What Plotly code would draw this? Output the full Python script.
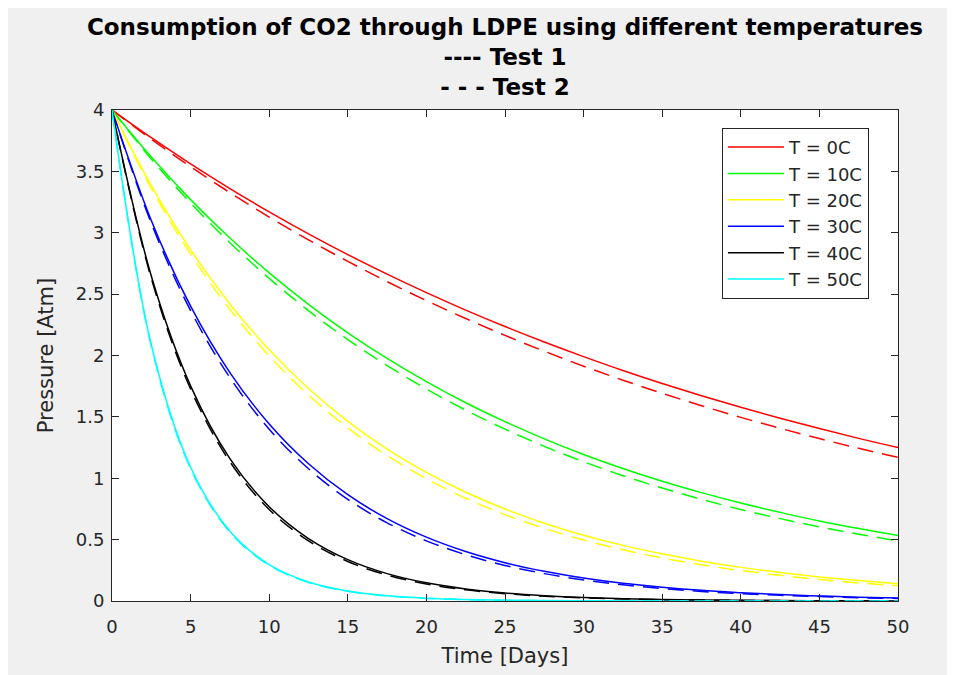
import plotly.graph_objects as go

# Time axis (days)
t = [0, 2.5, 5, 7.5, 10, 12.5, 15, 17.5, 20, 22.5, 25, 27.5, 30, 32.5, 35, 37.5, 40, 42.5, 45, 47.5, 50]

# Test 1 (solid) pressures [Atm]
p_0C_1 = [4, 3.774, 3.561, 3.360, 3.170, 2.991, 2.822, 2.663, 2.512, 2.370, 2.236, 2.110, 1.991, 1.878, 1.772, 1.672, 1.578, 1.489, 1.405, 1.325, 1.250]
p_10C_1 = [4, 3.617, 3.270, 2.957, 2.673, 2.417, 2.185, 1.976, 1.787, 1.615, 1.461, 1.321, 1.194, 1.080, 0.976, 0.883, 0.798, 0.722, 0.652, 0.590, 0.533]
p_20C_1 = [4, 3.383, 2.861, 2.420, 2.047, 1.731, 1.464, 1.238, 1.048, 0.886, 0.749, 0.634, 0.536, 0.453, 0.384, 0.324, 0.274, 0.232, 0.196, 0.166, 0.140]
p_30C_1 = [4, 3.100, 2.402, 1.861, 1.442, 1.118, 0.866, 0.671, 0.520, 0.403, 0.312, 0.242, 0.188, 0.145, 0.113, 0.087, 0.068, 0.052, 0.041, 0.031, 0.024]
p_40C_1 = [4, 2.648, 1.753, 1.160, 0.768, 0.509, 0.337, 0.223, 0.148, 0.098, 0.065, 0.043, 0.028, 0.019, 0.012, 0.008, 0.0054, 0.0036, 0.0024, 0.0016, 0.0010]
p_50C_1 = [4, 2.088, 1.090, 0.569, 0.297, 0.155, 0.081, 0.042, 0.022, 0.0115, 0.0060, 0.0031, 0.0016, 0.0009, 0.0004, 0.0002, 0.0001, 0.0001, 0.0, 0.0, 0.0]

# Test 2 (dashed) pressures [Atm]
p_0C_2 = [4, 3.762, 3.538, 3.327, 3.128, 2.942, 2.767, 2.602, 2.447, 2.301, 2.164, 2.035, 1.913, 1.799, 1.692, 1.591, 1.496, 1.407, 1.323, 1.244, 1.170]
p_10C_2 = [4, 3.601, 3.242, 2.919, 2.628, 2.366, 2.130, 1.918, 1.727, 1.555, 1.400, 1.260, 1.135, 1.021, 0.920, 0.828, 0.745, 0.671, 0.604, 0.544, 0.490]
p_20C_2 = [4, 3.362, 2.826, 2.375, 1.996, 1.678, 1.410, 1.185, 0.996, 0.837, 0.704, 0.592, 0.497, 0.418, 0.351, 0.295, 0.248, 0.209, 0.175, 0.147, 0.124]
p_30C_2 = [4, 3.077, 2.366, 1.820, 1.400, 1.077, 0.828, 0.637, 0.490, 0.377, 0.290, 0.223, 0.171, 0.132, 0.101, 0.078, 0.060, 0.046, 0.036, 0.027, 0.021]
p_40C_2 = [4, 2.628, 1.727, 1.135, 0.745, 0.490, 0.322, 0.211, 0.139, 0.091, 0.060, 0.039, 0.026, 0.017, 0.011, 0.0074, 0.0049, 0.0032, 0.0021, 0.0014, 0.0009]
p_50C_2 = [4, 2.078, 1.079, 0.561, 0.291, 0.151, 0.079, 0.041, 0.021, 0.011, 0.0058, 0.0030, 0.0016, 0.0008, 0.0004, 0.0002, 0.0001, 0.0001, 0.0, 0.0, 0.0]

labels = ["T = 0C", "T = 10C", "T = 20C", "T = 30C", "T = 40C", "T = 50C"]
colors = ["#ff0000", "#00ff00", "#ffff00", "#0000ff", "#000000", "#00ffff"]
test1 = [p_0C_1, p_10C_1, p_20C_1, p_30C_1, p_40C_1, p_50C_1]
test2 = [p_0C_2, p_10C_2, p_20C_2, p_30C_2, p_40C_2, p_50C_2]

FONT = "DejaVu Sans"
INK = "#262626"

fig = go.Figure()
for i, (lab, col) in enumerate(zip(labels, colors)):
    fig.add_trace(go.Scatter(x=t, y=test1[i], mode="lines", name=lab,
                             legendgroup=f"g{i}",
                             line=dict(color=col, width=1.5, shape="spline", smoothing=1.0)))
for i, (lab, col) in enumerate(zip(labels, colors)):
    fig.add_trace(go.Scatter(x=t, y=test2[i], mode="lines", name=lab + " (Test 2)",
                             legendgroup=f"g{i}", showlegend=False,
                             line=dict(color=col, width=1.5, dash="16px,9px", shape="spline", smoothing=1.0)))

axis_common = dict(showgrid=False, zeroline=False, showline=True, linecolor=INK, linewidth=1,
                   mirror="ticks", ticks="inside", ticklen=7, tickcolor=INK, tickwidth=1,
                   tickfont=dict(family=FONT, size=18, color=INK))

fig.update_layout(
    width=939, height=667,
    margin=dict(l=104, r=49, t=102, b=71),
    paper_bgcolor="#f0f0f0", plot_bgcolor="#ffffff",
    title=dict(text="<b>Consumption of CO2 through LDPE using different temperatures<br>---- Test 1<br>- - - Test 2</b>",
               x=0.5, xref="paper", xanchor="center", y=0.9595, yref="container", yanchor="top",
               font=dict(family=FONT, size=23, color="#000000")),
    xaxis=dict(range=[0, 50], tick0=0, dtick=5, ticklabelstandoff=9,
               title=dict(text="Time [Days]", font=dict(family=FONT, size=21, color=INK), standoff=12),
               **axis_common),
    yaxis=dict(range=[0, 4], tick0=0, dtick=0.5, ticklabelstandoff=3,
               title=dict(text="Pressure [Atm]", font=dict(family=FONT, size=21, color=INK), standoff=16),
               **axis_common),
    legend=dict(x=0.776, y=0.9636, xanchor="left", yanchor="top", bgcolor="#ffffff",
                bordercolor=INK, borderwidth=1, itemwidth=56, tracegroupgap=0,
                traceorder="grouped",
                font=dict(family=FONT, size=18, color=INK)),
    showlegend=True,
)

fig.write_html("out.html")
